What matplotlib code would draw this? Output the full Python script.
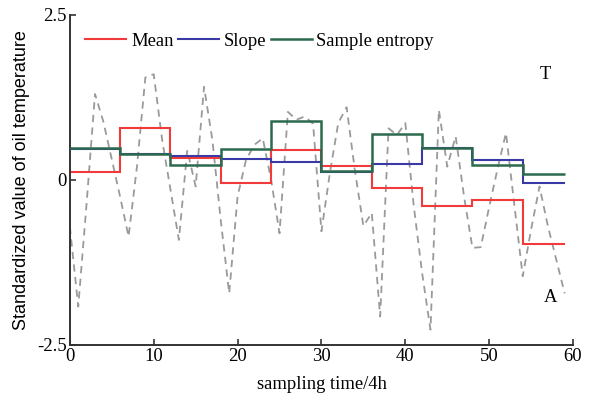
import matplotlib.pyplot as plt

# oil temperature (standardized), one sample every 4h
t = list(range(60))
temp = [-0.71, -1.92, -0.35, 1.30, 0.88, 0.31, -0.26, -0.86, 0.20, 1.55,
        1.60, 0.61, -0.15, -0.91, 0.45, -0.10, 1.41, 0.60, -0.62, -1.72,
        -0.25, 0.30, 0.53, 0.63, 0.00, -0.81, 1.03, 0.91, 0.96, 0.85,
        -0.78, 0.10, 0.86, 1.10, 0.13, -0.70, -0.50, -2.07, 0.78, 0.68,
        0.86, -0.39, -1.41, -2.27, 1.06, 0.20, 0.66, -0.25, -1.03, -1.02,
        -0.41, 0.17, 0.71, -0.38, -1.46, -0.75, -0.10, -0.70, -1.21, -1.72]

# window features, window = 6 samples
edges = [0, 6, 12, 18, 24, 30, 36, 42, 48, 54, 59]
mean = [0.12, 0.79, 0.33, -0.05, 0.45, 0.21, -0.12, -0.39, -0.30, -0.97]
slope = [0.47, 0.39, 0.36, 0.32, 0.27, 0.12, 0.24, 0.48, 0.30, -0.05]
entropy = [0.48, 0.39, 0.23, 0.47, 0.89, 0.14, 0.70, 0.48, 0.23, 0.09]

serif = 'Liberation Serif'
fs = 13.4

fig = plt.figure(figsize=(5.92, 4.01), dpi=100)
ax = fig.add_axes([0.118, 0.140, 0.850, 0.823])

ax.plot(t, temp, color='#9a9a9a', lw=1.3, ls=(0, (4, 3)), zorder=1)
ax.stairs(mean, edges, baseline=None, color='#f23a3a', lw=1.5, label='Mean', zorder=2)
ax.stairs(slope, edges, baseline=None, color='#3a3aa6', lw=1.5, label='Slope', zorder=3)
ax.stairs(entropy, edges, baseline=None, color='#2b6a4c', lw=1.8, label='Sample entropy', zorder=4)

ax.set_xlim(0, 60)
ax.set_ylim(-2.5, 2.5)
ax.set_xticks([0, 10, 20, 30, 40, 50, 60])
ax.set_yticks([-2.5, 0, 2.5])
ax.set_yticklabels(['-2.5', '0', '2.5'])

for s in ['top', 'right']:
    ax.spines[s].set_visible(False)
for s in ['left', 'bottom']:
    ax.spines[s].set_color('#333333')
    ax.spines[s].set_linewidth(1.4)
ax.tick_params(direction='in', length=4, width=1.2, color='#333333', pad=2)
for lab in ax.get_xticklabels() + ax.get_yticklabels():
    lab.set_fontfamily(serif)
    lab.set_fontsize(fs)

ax.set_xlabel('sampling time/4h', fontfamily=serif, fontsize=fs, labelpad=8)
ax.set_ylabel('Standardized value of oil temperature', fontfamily='Liberation Sans', fontsize=13, labelpad=5)

ax.text(56.7, 1.59, 'T', fontfamily=serif, fontsize=fs, ha='center', va='center')
ax.text(57.3, -1.79, 'A', fontfamily=serif, fontsize=fs, ha='center', va='center')

ax.legend(loc='upper left', bbox_to_anchor=(0.005, 0.985), ncol=3, frameon=False,
          prop={'family': serif, 'size': fs}, handlelength=2.2,
          handletextpad=0.25, columnspacing=0.25, borderaxespad=0.3)

fig.savefig('out.png', dpi=100)
